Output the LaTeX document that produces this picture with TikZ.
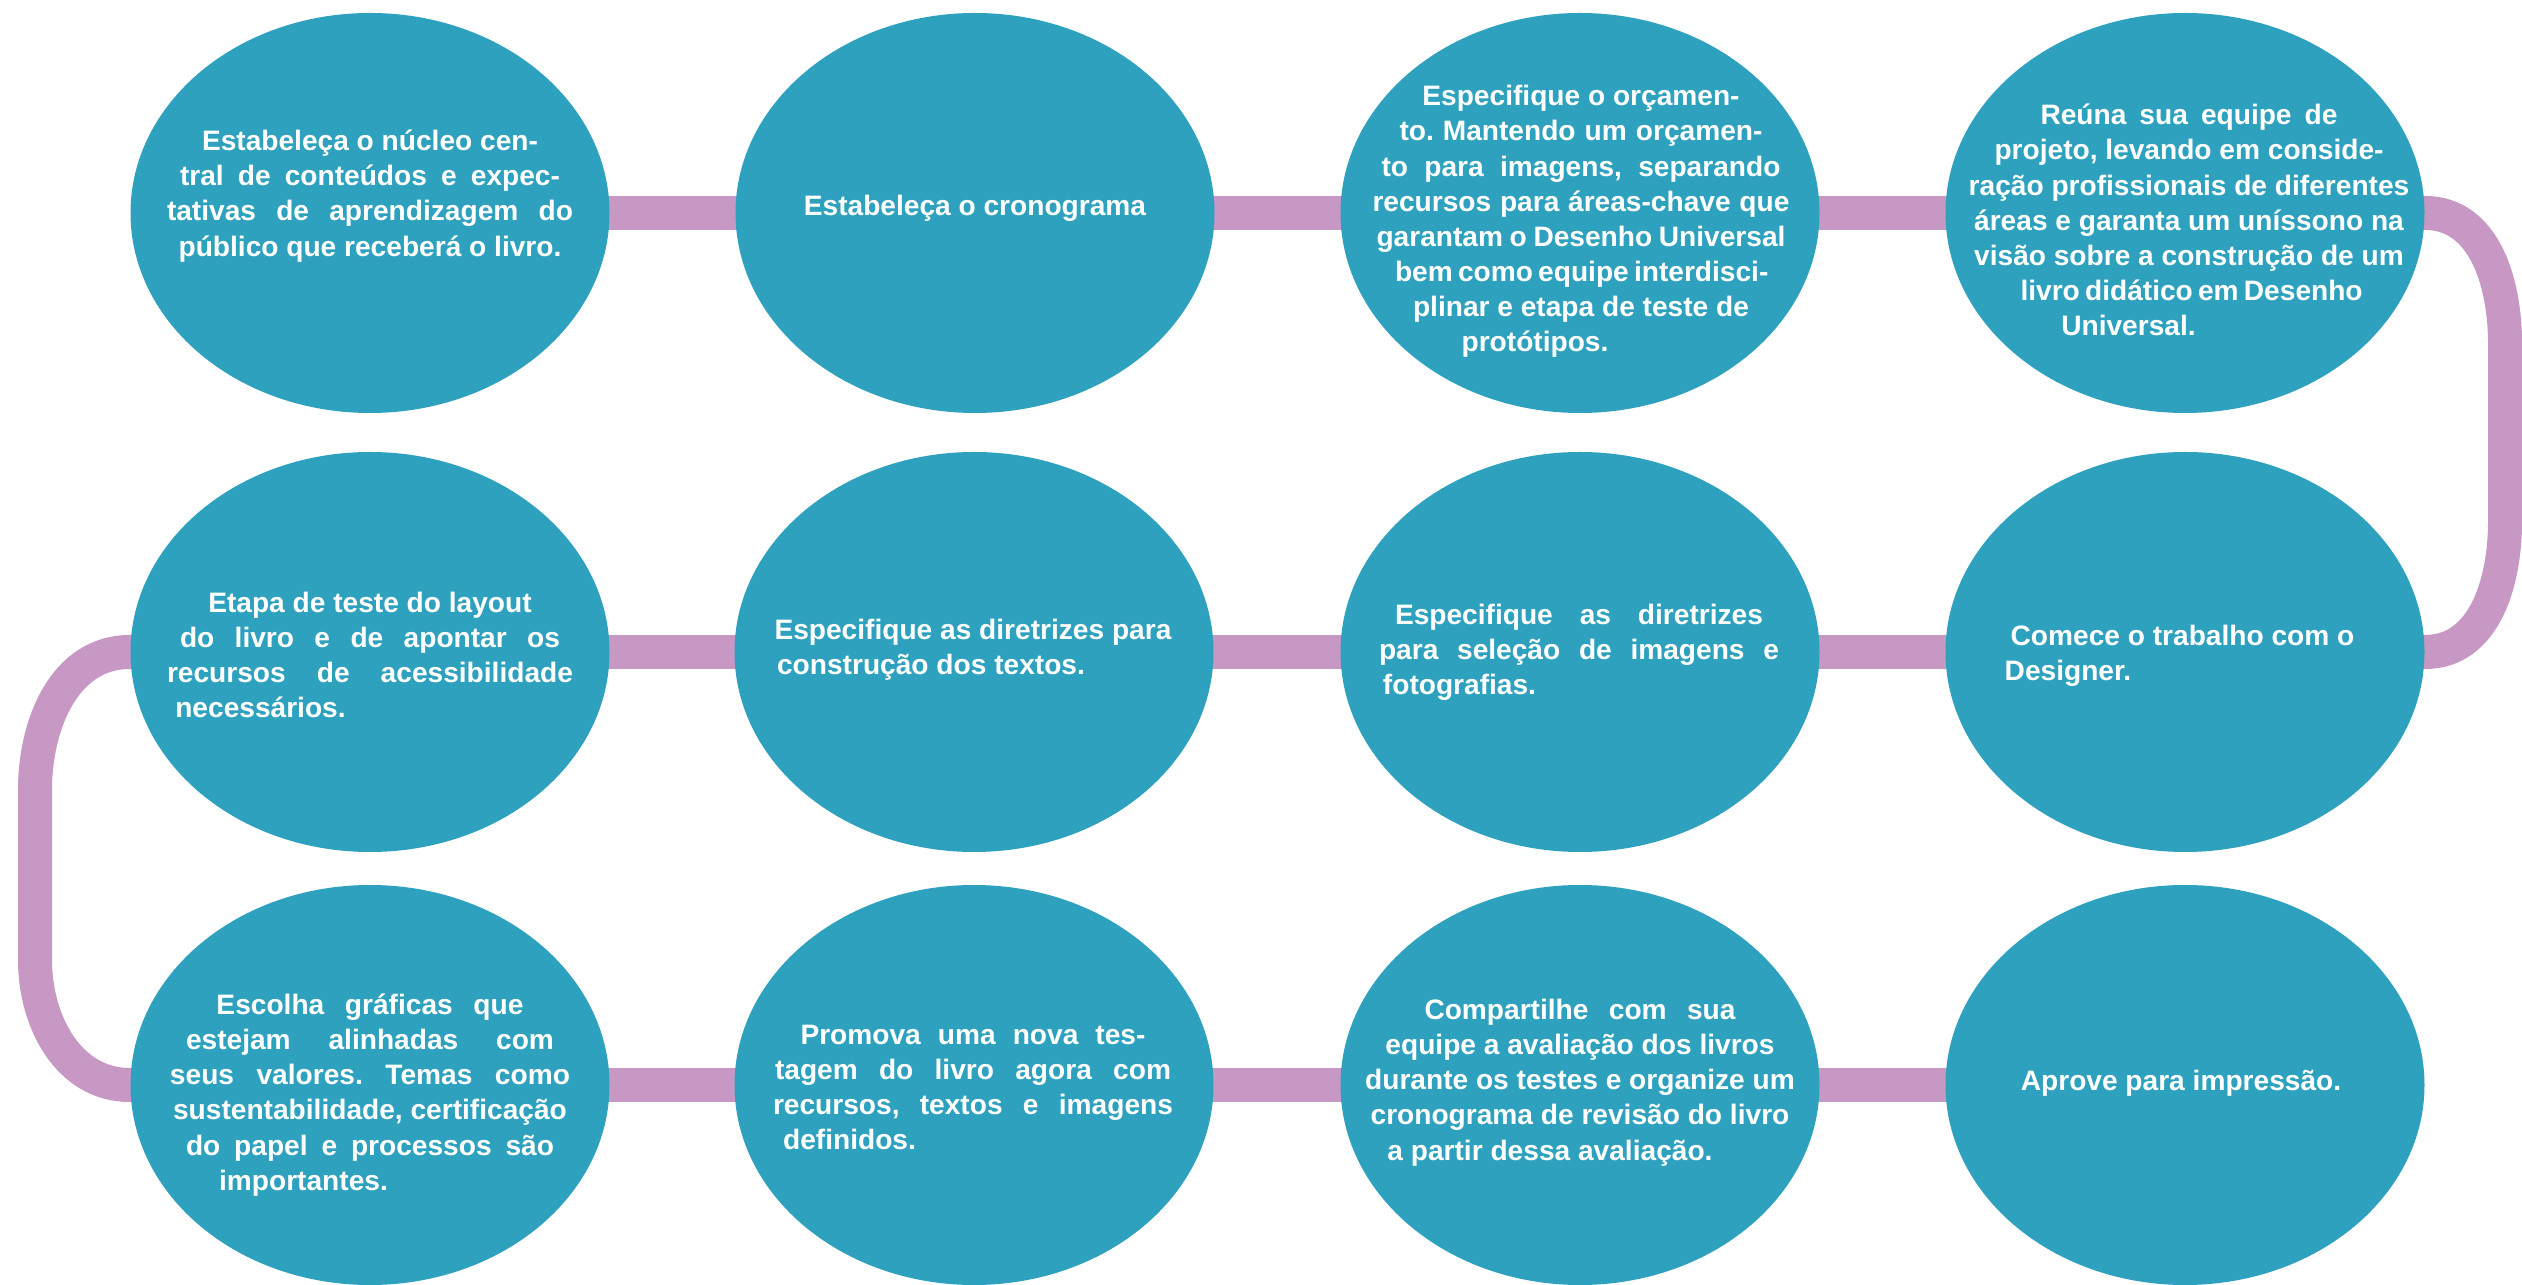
\documentclass[tikz,border=0pt]{standalone}
\usepackage{fontspec}
\setmainfont{Liberation Sans}
\usetikzlibrary{shapes.geometric}
\usetikzlibrary{backgrounds}
\definecolor{azuletapa}{RGB}{45,161,190}
\definecolor{lilas}{RGB}{200,152,197}
\newcommand{\linha}[2]{\makebox[#1][s]{#2}}
\frenchspacing
\tikzset{
  etapa/.style={ellipse, fill=azuletapa, minimum width=4.79cm, minimum height=4cm, inner sep=0pt},
  texto/.style={text=white, font=\bfseries\fontsize{8}{10}\selectfont, align=center, inner sep=0pt},
  ligacao/.style={draw=lilas, line width=3.4mm}
}

\begin{document}
\begin{tikzpicture}
\useasboundingbox (0,0) rectangle (25.22,12.84);

\node[etapa] (e1) at (3.70,10.71) {};
\node[etapa] (e2) at (9.75,10.71) {};
\node[etapa] (e3) at (15.80,10.71) {};
\node[etapa] (e4) at (21.85,10.71) {};
\node[etapa] (e5) at (3.70,6.32) {};
\node[etapa] (e6) at (9.74,6.32) {};
\node[etapa] (e7) at (15.80,6.32) {};
\node[etapa] (e8) at (21.85,6.32) {};
\node[etapa] (e9) at (3.70,1.99) {};
\node[etapa] (e10) at (9.74,1.99) {};
\node[etapa] (e11) at (15.80,1.99) {};
\node[etapa] (e12) at (21.85,1.99) {};

\coordinate (d1) at (25.05,9.41);
\coordinate (d2) at (25.05,7.62);
\coordinate (s1) at (0.35,4.94);
\coordinate (s2) at (0.35,3.24);

\begin{scope}[on background layer]
\fill[white] (0,0) rectangle (25.22,12.84);
\draw[ligacao] (e1.center) -- (e2.center) -- (e3.center) -- (e4.center);
\draw[ligacao] (e5.center) -- (e6.center) -- (e7.center) -- (e8.center);
\draw[ligacao] (e9.center) -- (e10.center) -- (e11.center) -- (e12.center);
\draw[ligacao] (e4.center) -- (e4.east) to[out=0,in=90] (d1) -- (d2) to[out=-90,in=0] (e8.east) -- (e8.center);
\draw[ligacao] (e5.center) -- (e5.west) to[out=180,in=90] (s1) -- (s2) to[out=-90,in=180] (e9.west) -- (e9.center);
\end{scope}

\node[texto, yshift=1.7mm] (t1) at (e1) {Estabeleça o núcleo cen-\\\linha{3.80cm}{tral de conteúdos e expec-}\\\linha{4.06cm}{tativas de aprendizagem do}\\público que receberá o livro.};
\node[texto, yshift=0.5mm] (t2) at (e2) {Estabeleça o cronograma};
\node[texto, xshift=0.1mm, yshift=-0.85mm] (t3) at (e3) {Especifique o orçamen-\\\linha{3.63cm}{to. Mantendo um orçamen-}\\\linha{3.99cm}{to para imagens, separando}\\\linha{4.17cm}{recursos para áreas-chave que}\\\linha{4.09cm}{garantam o Desenho Universal}\\\linha{3.72cm}{bem como equipe interdisci-}\\plinar e etapa de teste de\\protótipos.\hspace*{0.92cm}};
\node[texto, xshift=0.4mm, yshift=-0.7mm] (t4) at (e4) {\linha{2.97cm}{Reúna sua equipe de}\\projeto, levando em conside-\\ração profissionais de diferentes\\áreas e garanta um uníssono na\\visão sobre a construção de um\\\linha{3.37cm}{livro didático em Desenho}\\Universal.\hspace*{1.21cm}};
\node[texto, yshift=-0.3mm] (t5) at (e5) {Etapa de teste do layout\\\linha{3.80cm}{do livro e de apontar os}\\\linha{4.06cm}{recursos de acessibilidade}\\necessários.\hspace*{2.19cm}};
\node[texto, xshift=-0.1mm, yshift=0.2mm] (t6) at (e6) {Especifique as diretrizes para\\construção dos textos.\hspace*{0.84cm}};
\node[texto, xshift=-0.1mm] (t7) at (e7) {\linha{3.68cm}{Especifique as diretrizes}\\\linha{4.00cm}{para seleção de imagens e}\\fotografias.\hspace*{2.39cm}};
\node[texto, xshift=-0.25mm, yshift=-0.35mm] (t8) at (e8) {Comece o trabalho com o\\Designer.\hspace*{2.29cm}};
\node[texto, yshift=-1mm] (t9) at (e9) {\linha{3.07cm}{Escolha gráficas que}\\\linha{3.68cm}{estejam alinhadas com}\\\linha{4.00cm}{seus valores. Temas como}\\sustentabilidade, certificação\\\linha{3.68cm}{do papel e processos são}\\importantes.\hspace*{1.33cm}};
\node[texto, xshift=-0.1mm, yshift=-0.25mm] (t10) at (e10) {\linha{3.45cm}{Promova uma nova tes-}\\\linha{3.96cm}{tagem do livro agora com}\\\linha{4.00cm}{recursos, textos e imagens}\\definidos.\hspace*{2.47cm}};
\node[texto, yshift=0.25mm] (t11) at (e11) {\linha{3.11cm}{Compartilhe com sua}\\equipe a avaliação dos livros\\durante os testes e organize um\\cronograma de revisão do livro\\a partir dessa avaliação.\hspace*{0.6cm}};
\node[texto, xshift=-0.4mm, yshift=0.2mm] (t12) at (e12) {Aprove para impressão.};
\end{tikzpicture}
\end{document}
